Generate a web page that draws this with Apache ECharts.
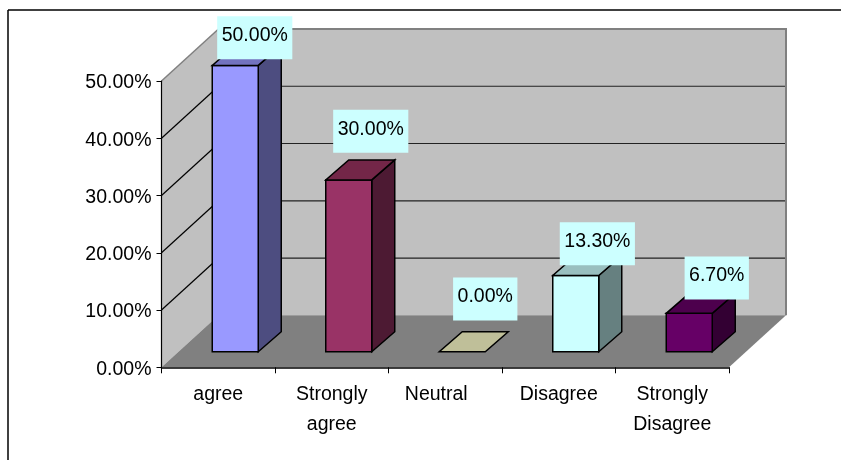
<!DOCTYPE html>
<html>
<head>
<meta charset="utf-8">
<style>
  html, body { margin: 0; padding: 0; background: #fff; }
  #chart { width: 841px; height: 460px; }
</style>
<script src="https://cdn.jsdelivr.net/npm/echarts@6/dist/echarts.min.js"></script>
</head>
<body>
<div id="chart"></div>
<script>
// Survey responses, in percent
const categories = ['agree', 'Strongly\nagree', 'Neutral', 'Disagree', 'Strongly\nDisagree'];
const values = [50, 30, 0, 13.3, 6.7];
const valueLabels = ['50.00%', '30.00%', '0.00%', '13.30%', '6.70%'];
const gridTicks = [10, 20, 30, 40];

// Face colours per bar: front, top, side
const frontColors = ['#9999FF', '#993366', '#FFFFCC', '#CCFFFF', '#660066'];
const topColors = ['#7373BF', '#732648', '#BFBF99', '#99BFBF', '#4D004D'];
const sideColors = ['#4D4D80', '#4D1A33', '#808066', '#668080', '#330033'];

// Callout placement relative to the bar's top front edge
const labelNudgeX = [19.5, 22, 23, 21.6, 27.5];
const labelNudgeY = [-28, -49, -53, -32, -35.5];
const CALLOUT_HALF_HEIGHT = 21.25;

// Oblique projection used for the fake 3D box
const WALL_DX = 57, WALL_DY = -52;
const BAR_INSET_DX = 17, BAR_INSET_DY = -15.6;
const BAR_DX = 23, BAR_DY = -20;
const BAR_WIDTH = 46;
const FONT_FAMILY = '"Liberation Sans", Arial, sans-serif';
const FONT_SIZE = 19.5;

function poly(points, fill, stroke, lineWidth) {
  return {
    type: 'polygon',
    shape: { points },
    style: { fill, stroke: stroke || 'none', lineWidth: lineWidth || 0, lineJoin: 'miter' }
  };
}
function line(x1, y1, x2, y2, stroke, lineWidth) {
  return {
    type: 'line',
    shape: { x1, y1, x2, y2 },
    style: { stroke, lineWidth }
  };
}

// Side wall, back wall, floor and the gridlines running across them
function renderRoom(params, api) {
  const band = api.size([1, 0])[0];
  const x0 = api.coord([0, 0])[0] - band / 2;
  const x1 = api.coord([categories.length - 1, 0])[0] + band / 2;
  const y0 = api.coord([0, 0])[1];
  const yTop = api.coord([0, 50])[1];
  const bx0 = x0 + WALL_DX, bx1 = x1 + WALL_DX;
  const children = [
    poly([[x0, yTop], [bx0, yTop + WALL_DY], [bx0, y0 + WALL_DY], [x0, y0]], '#C0C0C0'),
    poly([[bx0, yTop + WALL_DY], [bx1, yTop + WALL_DY], [bx1, y0 + WALL_DY], [bx0, y0 + WALL_DY]], '#C0C0C0'),
    poly([[x0, y0], [x1, y0], [bx1, y0 + WALL_DY], [bx0, y0 + WALL_DY]], '#808080')
  ];
  gridTicks.forEach(function (t) {
    const y = api.coord([0, t])[1];
    children.push(line(x0, y, bx0, y + WALL_DY, '#000', 1.2));
    children.push(line(bx0, y + WALL_DY, bx1, y + WALL_DY, '#222', 1.2));
  });
  children.push(line(x0, yTop, bx0, yTop + WALL_DY, '#808080', 1.5));
  children.push(line(bx0, yTop + WALL_DY, bx1 + 1, yTop + WALL_DY, '#808080', 2));
  children.push(line(bx1, yTop + WALL_DY, bx1, y0 + WALL_DY, '#808080', 2));
  return { type: 'group', children };
}

function renderBar(params, api) {
  const i = api.value(0);
  const base = api.coord([i, 0]);
  const top = api.coord([i, api.value(1)]);
  const l = base[0] + BAR_INSET_DX - BAR_WIDTH / 2;
  const r = l + BAR_WIDTH;
  const b = base[1] + BAR_INSET_DY;
  const t = top[1] + BAR_INSET_DY;
  const stroke = '#000';
  const children = [];
  if (b - t > 0.5) {
    children.push(poly([[r, b], [r + BAR_DX, b + BAR_DY], [r + BAR_DX, t + BAR_DY], [r, t]], sideColors[i], stroke, 1.5));
    children.push(poly([[l, b], [r, b], [r, t], [l, t]], frontColors[i], stroke, 1.5));
  }
  children.push(poly([[l, t], [r, t], [r + BAR_DX, t + BAR_DY], [l + BAR_DX, t + BAR_DY]], topColors[i], stroke, 1.5));
  return { type: 'group', children };
}

function renderCallout(params, api) {
  const i = api.value(0);
  const top = api.coord([i, api.value(1)]);
  return {
    type: 'text',
    x: top[0] + BAR_INSET_DX + labelNudgeX[i],
    y: top[1] + BAR_INSET_DY + labelNudgeY[i] - CALLOUT_HALF_HEIGHT,
    style: {
      text: valueLabels[i],
      fontFamily: FONT_FAMILY,
      fontSize: FONT_SIZE,
      fill: '#000',
      align: 'center',
      verticalAlign: 'top',
      backgroundColor: '#CCFFFF',
      padding: [9.5, 4.5, 13.5, 4.5]
    }
  };
}

const barData = values.map(function (v, i) { return [i, v]; });

const chart = echarts.init(document.getElementById('chart'), null, { renderer: 'canvas' });
chart.setOption({
  animation: false,
  backgroundColor: '#fff',
  grid: { left: 161.5, right: 112, top: 81, bottom: 92.7, containLabel: false },
  xAxis: {
    type: 'category',
    data: categories,
    z: 10,
    axisLine: { lineStyle: { color: '#000', width: 1.5 } },
    axisTick: { show: true, length: 6, lineStyle: { color: '#000' } },
    axisLabel: {
      color: '#000',
      fontFamily: FONT_FAMILY,
      fontSize: FONT_SIZE,
      lineHeight: 30,
      margin: 12,
      interval: 0,
      formatter: function (name) {
        return name === 'Neutral' ? '{shifted|' + name + '}' : name;
      },
      rich: {
        shifted: {
          fontFamily: FONT_FAMILY,
          fontSize: FONT_SIZE,
          color: '#000',
          padding: [0, 18, 0, 0]
        }
      }
    },
    splitLine: { show: false }
  },
  yAxis: {
    type: 'value',
    min: 0,
    max: 50,
    interval: 10,
    z: 10,
    axisLine: { show: true, lineStyle: { color: '#000', width: 1.2 } },
    axisTick: { show: true, length: 5, lineStyle: { color: '#000' } },
    axisLabel: {
      color: '#000',
      margin: 10,
      formatter: function (v) { return '{tick|' + v.toFixed(2) + '%}'; },
      rich: {
        tick: {
          fontFamily: FONT_FAMILY,
          fontSize: FONT_SIZE,
          color: '#000',
          padding: [4, 0, 0, 0]
        }
      }
    },
    splitLine: { show: false }
  },
  graphic: [
    { type: 'line', z: 100, shape: { x1: 8, y1: 10, x2: 841, y2: 10 }, style: { stroke: '#000', lineWidth: 1.5 } },
    { type: 'line', z: 100, shape: { x1: 8, y1: 10, x2: 8, y2: 460 }, style: { stroke: '#000', lineWidth: 1.5 } }
  ],
  series: [
    { type: 'custom', name: 'room', coordinateSystem: 'cartesian2d', z: 1, clip: false, silent: true, renderItem: renderRoom, data: [[0, 0]] },
    { type: 'custom', name: 'bars', coordinateSystem: 'cartesian2d', z: 12, clip: false, renderItem: renderBar, data: barData },
    { type: 'custom', name: 'callouts', coordinateSystem: 'cartesian2d', z: 13, clip: false, renderItem: renderCallout, data: barData }
  ]
});
</script>
</body>
</html>
